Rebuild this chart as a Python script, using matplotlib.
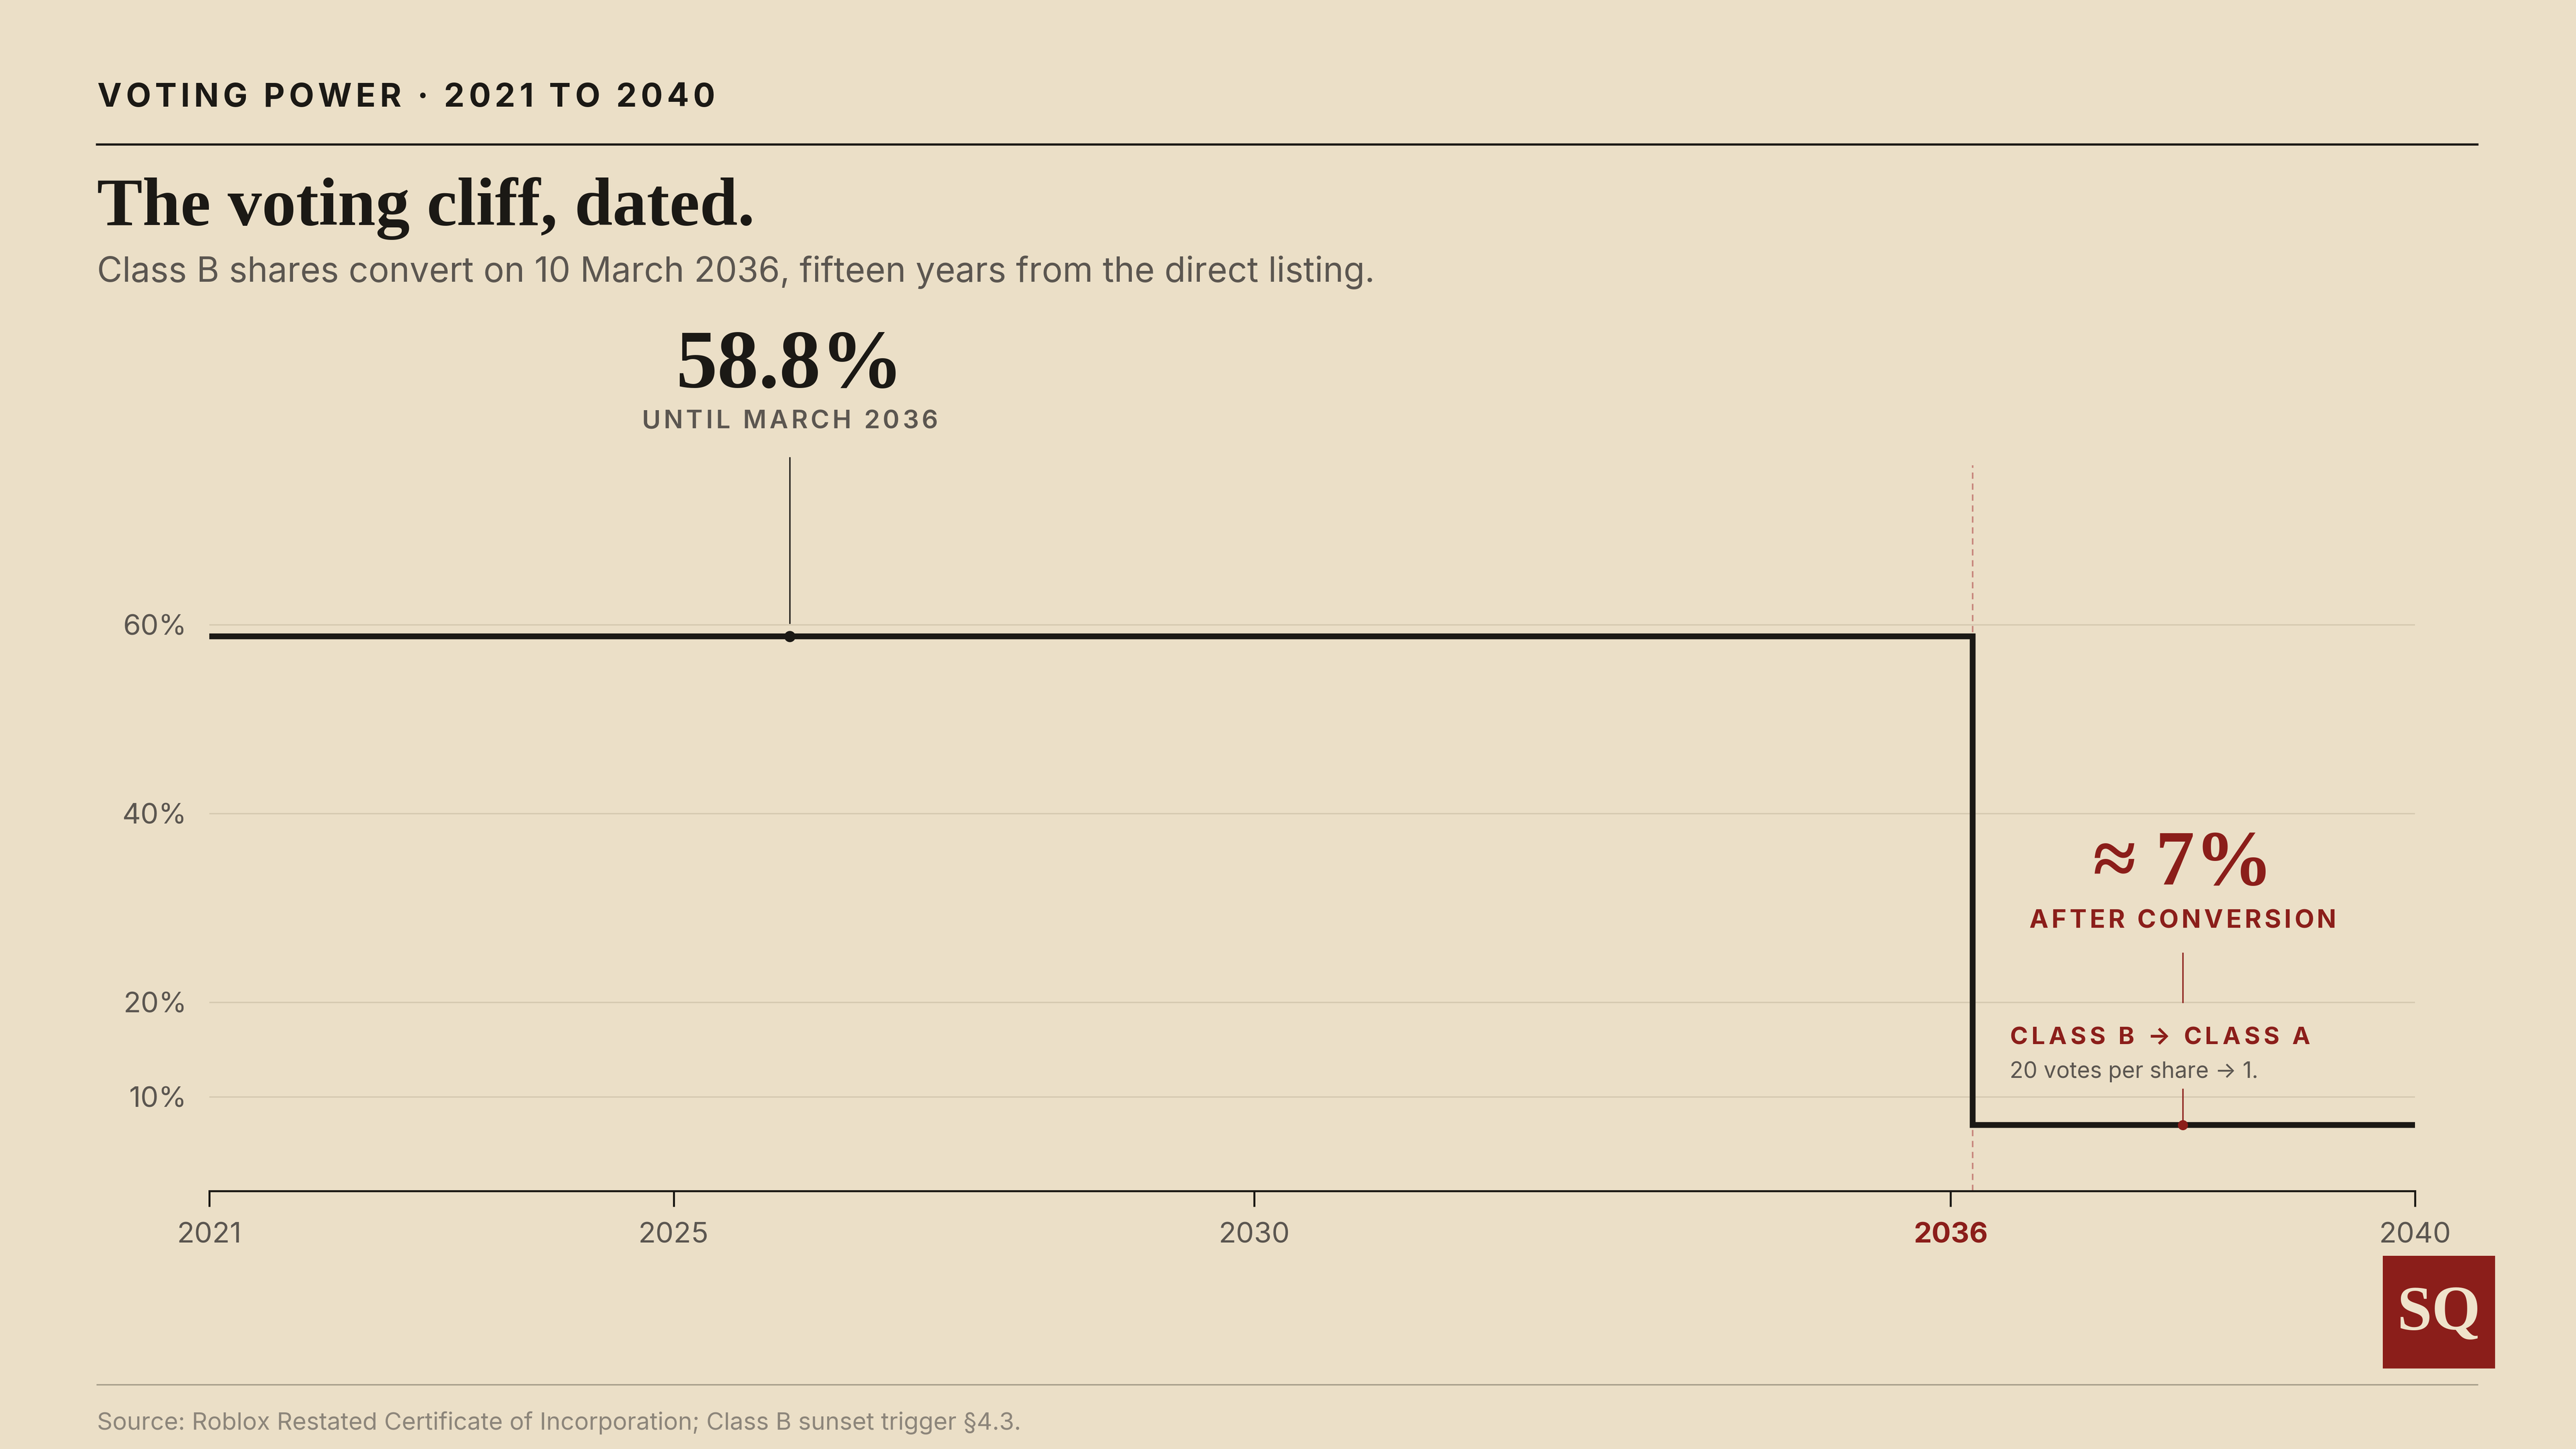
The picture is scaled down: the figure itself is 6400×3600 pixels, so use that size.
import matplotlib
matplotlib.use('Agg')
import matplotlib.pyplot as plt
from matplotlib.font_manager import FontProperties
from matplotlib.patches import Rectangle
from matplotlib.lines import Line2D

# data
step_years = [2021, 2036.19, 2040]      # conversion on 10 March 2036
step_power = [58.8, 7.0, 7.0]
conversion_year = 2036.19
before_mark = (2026, 58.8)
after_mark = (2038, 7.0)
x_ticks = [2021, 2025, 2030, 2036, 2040]
x_tick_labels = ['2021', '2025', '2030', '2036', '2040']
y_ticks = [10, 20, 40, 60]
y_tick_labels = ['10%', '20%', '40%', '60%']

# colours
BG = '#ebdfc7'
INK = '#1b1915'
GREY = '#5b5650'
LIGHT = '#8c857a'
RED = '#8b1e1a'
GRID = '#d5c9b0'
SANS = ['Inter', 'DejaVu Sans']
SERIF = ['Liberation Serif', 'DejaVu Serif']

plt.rcParams['font.family'] = SANS

fig = plt.figure(figsize=(16, 9), dpi=400, facecolor=BG)
renderer = fig.canvas.get_renderer()
W = fig.bbox.width


def tracked(x, y, s, size, color, track=0.12, weight='bold', family=SANS, ha='left'):
    # draw letter-spaced text char by char
    fp = FontProperties(family=family, weight=weight, size=size)

    def w(t):
        return renderer.get_text_width_height_descent(t, fp, ismath=False)[0]
    hw = w('H')
    px = size * fig.dpi / 72 * track
    offs = [w(s[:i] + 'H') - hw + i * px for i in range(len(s))]
    total = w(s) + px * (len(s) - 1)
    x0 = x * W - (total / 2 if ha == 'center' else 0)
    for c, o in zip(s, offs):
        if c != ' ':
            fig.text((x0 + o) / W, y, c, fontproperties=fp, color=color,
                     ha='left', va='baseline')


# header
tracked(0.0377, 0.9264, 'VOTING POWER · 2021 TO 2040', 14.6, INK, track=0.125)
fig.add_artist(Line2D([0.0377, 0.9617], [0.9003, 0.9003], color=INK, lw=1.0))
fig.text(0.0377, 0.8447, 'The voting cliff, dated.', family=SERIF, weight='bold',
         size=30.5, color=INK, va='baseline')
fig.text(0.0377, 0.8056, 'Class B shares convert on 10 March 2036, fifteen years from the direct listing.',
         size=15.5, color=GREY, va='baseline')

# chart
ax = fig.add_axes([0.08125, 0.178, 0.85625, 0.508])
ax.set_facecolor(BG)
ax.set_xlim(2021, 2040)
ax.set_ylim(0, 78)
for s in ['top', 'right', 'left']:
    ax.spines[s].set_visible(False)
ax.spines['bottom'].set_color(INK)
ax.spines['bottom'].set_linewidth(0.9)

ax.set_yticks(y_ticks)
ax.set_yticklabels(y_tick_labels)
ax.set_xticks(x_ticks)
ax.set_xticklabels(x_tick_labels)
ax.tick_params(axis='y', length=0, pad=10, labelsize=12.8, labelcolor=GREY)
ax.tick_params(axis='x', length=7, width=0.9, color=INK, pad=7, labelsize=12.8, labelcolor=GREY)
lbl = ax.get_xticklabels()[3]
lbl.set_color(RED)
lbl.set_fontweight('bold')
ax.grid(axis='y', color=GRID, lw=0.6)
ax.set_axisbelow(True)

ax.plot([conversion_year, conversion_year], [0, 76.9], color='#c7867c', lw=0.7,
        dashes=(4, 3), zorder=1)
ax.step(step_years, step_power, where='post', color=INK, lw=2.6,
        solid_joinstyle='miter', solid_capstyle='butt', zorder=3)

# 58.8% callout
ax.plot([before_mark[0]] * 2, [60.2, 77.7], color=INK, lw=0.6, clip_on=False, zorder=2)
ax.plot(*before_mark, 'o', color=INK, ms=4, zorder=4)
xf = 0.3066
fig.text(xf, 0.7328, f'{before_mark[1]}%', family=SERIF, weight='bold', size=37,
         color=INK, ha='center', va='baseline')
tracked(xf, 0.7044, 'UNTIL MARCH 2036', 11.4, GREY, track=0.12, weight='semibold', ha='center')

# 7% callout
ax.plot([after_mark[0]] * 2, [7.0, 10.8], color=RED, lw=0.6, zorder=2)
ax.plot([after_mark[0]] * 2, [20.0, 25.2], color=RED, lw=0.6, zorder=2)
ax.plot(*after_mark, 'o', color=RED, ms=3.5, zorder=4)
xa = ax.transData.transform((after_mark[0], 0))[0] / W
fig.text(xa, 0.3894, '≈ 7%', family=SERIF, weight='bold', size=35,
         color=RED, ha='center', va='baseline')
tracked(xa, 0.3597, 'AFTER CONVERSION', 11.4, RED, track=0.12, ha='center')
tracked(0.7802, 0.2794, 'CLASS B → CLASS A', 10.8, RED, track=0.15)
fig.text(0.7802, 0.2560, '20 votes per share → 1.', size=10.0, color=GREY, va='baseline')

# logo
fig.add_artist(Rectangle((0.925, 0.0556), 0.0436, 0.0777, color=RED, lw=0))
fig.text(0.9468, 0.0930, 'SQ', family=SERIF, weight='bold', size=28, color='#efe3cb',
         ha='center', va='center')

# footer
fig.add_artist(Line2D([0.0377, 0.9617], [0.0444, 0.0444], color='#a39b87', lw=0.6))
fig.text(0.0377, 0.0133, 'Source: Roblox Restated Certificate of Incorporation; Class B sunset trigger §4.3.',
         size=10.8, color=LIGHT, va='baseline')

fig.savefig('out.png', dpi=400, facecolor=BG)
